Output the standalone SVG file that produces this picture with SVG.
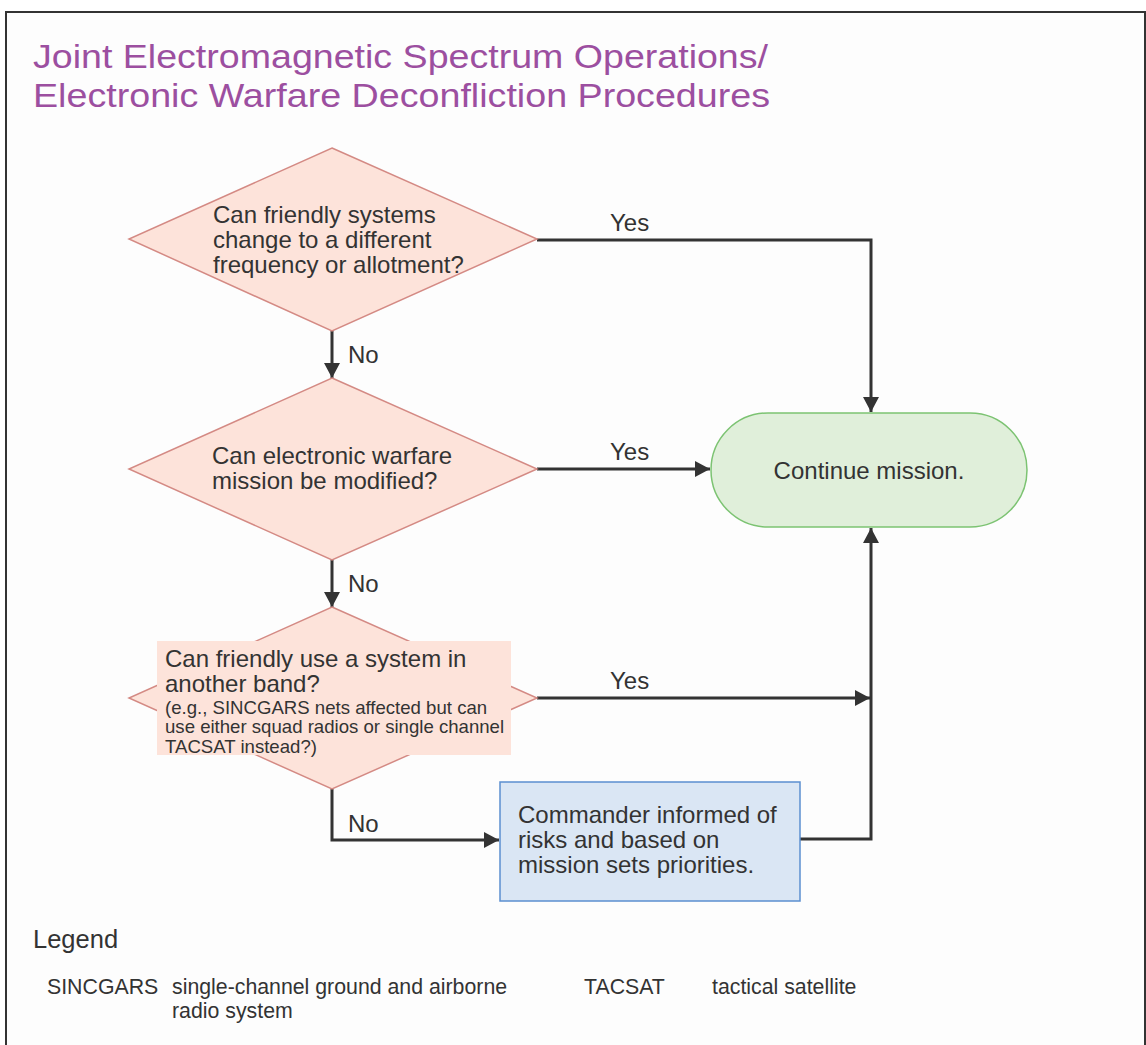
<svg xmlns="http://www.w3.org/2000/svg" width="1146" height="1045" viewBox="0 0 1146 1045">
<defs>
<style>
.t{font-family:"Liberation Sans",Arial,sans-serif;fill:#333333}
.n{font-size:24px}
.s{font-size:18.6px}
.lbl{font-size:24px}
.dia{fill:#fde3da;stroke:#d48a84;stroke-width:1.5}
.c{fill:none;stroke:#333333;stroke-width:3}
.lg{font-size:21.3px}
.ttl{font-size:34px;fill:#9c4fa0}
</style>
<marker id="ah" markerUnits="userSpaceOnUse" markerWidth="16" markerHeight="16" refX="15" refY="8" orient="auto">
<path d="M0,0 L15,8 L0,16 z" fill="#333333"/>
</marker>
</defs>
<rect x="0" y="0" width="1146" height="1045" fill="#ffffff"/>
<rect x="6" y="12" width="1139" height="1060" fill="#fdfdfd" stroke="#333333" stroke-width="2"/>
<g id="title">
<text class="t ttl" x="33" y="68" textLength="735" lengthAdjust="spacingAndGlyphs">Joint Electromagnetic Spectrum Operations/</text>
<text class="t ttl" x="33" y="107" textLength="737" lengthAdjust="spacingAndGlyphs">Electronic Warfare Deconfliction Procedures</text>
</g>
<g id="connectors">
<polyline class="c" points="537,240 871,240 871,412" marker-end="url(#ah)"/>
<line class="c" x1="332" y1="331" x2="332" y2="378" marker-end="url(#ah)"/>
<line class="c" x1="537" y1="469" x2="710" y2="469" marker-end="url(#ah)"/>
<line class="c" x1="332" y1="560" x2="332" y2="607" marker-end="url(#ah)"/>
<line class="c" x1="537" y1="698" x2="870" y2="698" marker-end="url(#ah)"/>
<polyline class="c" points="332,788 332,840 499,840" marker-end="url(#ah)"/>
<polyline class="c" points="800,839 871,839 871,528" marker-end="url(#ah)"/>
<text class="t lbl" x="610" y="231">Yes</text>
<text class="t lbl" x="610" y="460">Yes</text>
<text class="t lbl" x="610" y="689">Yes</text>
<text class="t lbl" x="348" y="363">No</text>
<text class="t lbl" x="348" y="592">No</text>
<text class="t lbl" x="348" y="832">No</text>
</g>
<g id="d1">
<polygon class="dia" points="332,148 537,239 332,331 129,239"/>
<text class="t n" x="213" y="223">Can friendly systems</text>
<text class="t n" x="213" y="248">change to a different</text>
<text class="t n" x="213" y="273">frequency or allotment?</text>
</g>
<g id="d2">
<polygon class="dia" points="332,378 537,469 332,560 129,469"/>
<text class="t n" x="212" y="464">Can electronic warfare</text>
<text class="t n" x="212" y="489">mission be modified?</text>
</g>
<g id="d3">
<polygon class="dia" points="332,607 537,698 332,789 129,698"/>
<rect x="157" y="641" width="354" height="114" fill="#fde3da"/>
<text class="t n" x="165" y="667">Can friendly use a system in</text>
<text class="t n" x="165" y="692">another band?</text>
<text class="t s" x="165" y="714">(e.g., SINCGARS nets affected but can</text>
<text class="t s" x="165" y="733">use either squad radios or single channel</text>
<text class="t s" x="165" y="753">TACSAT instead?)</text>
</g>
<g id="continue">
<rect x="711" y="413" width="316" height="114" rx="57" ry="57" fill="#e0efda" stroke="#7cc372" stroke-width="1.5"/>
<text class="t n" x="869" y="479" text-anchor="middle">Continue mission.</text>
</g>
<g id="commander">
<rect x="500" y="782" width="300" height="119" fill="#dae6f4" stroke="#5b8fd0" stroke-width="1.5"/>
<text class="t n" x="518" y="823">Commander informed of</text>
<text class="t n" x="518" y="848">risks and based on</text>
<text class="t n" x="518" y="873">mission sets priorities.</text>
</g>
<g id="legend">
<text class="t" x="33" y="948" style="font-size:25.5px">Legend</text>
<text class="t lg" x="47" y="994">SINCGARS</text>
<text class="t lg" x="172" y="994">single-channel ground and airborne</text>
<text class="t lg" x="172" y="1018">radio system</text>
<text class="t lg" x="584" y="994">TACSAT</text>
<text class="t lg" x="712" y="994">tactical satellite</text>
</g>
</svg>
